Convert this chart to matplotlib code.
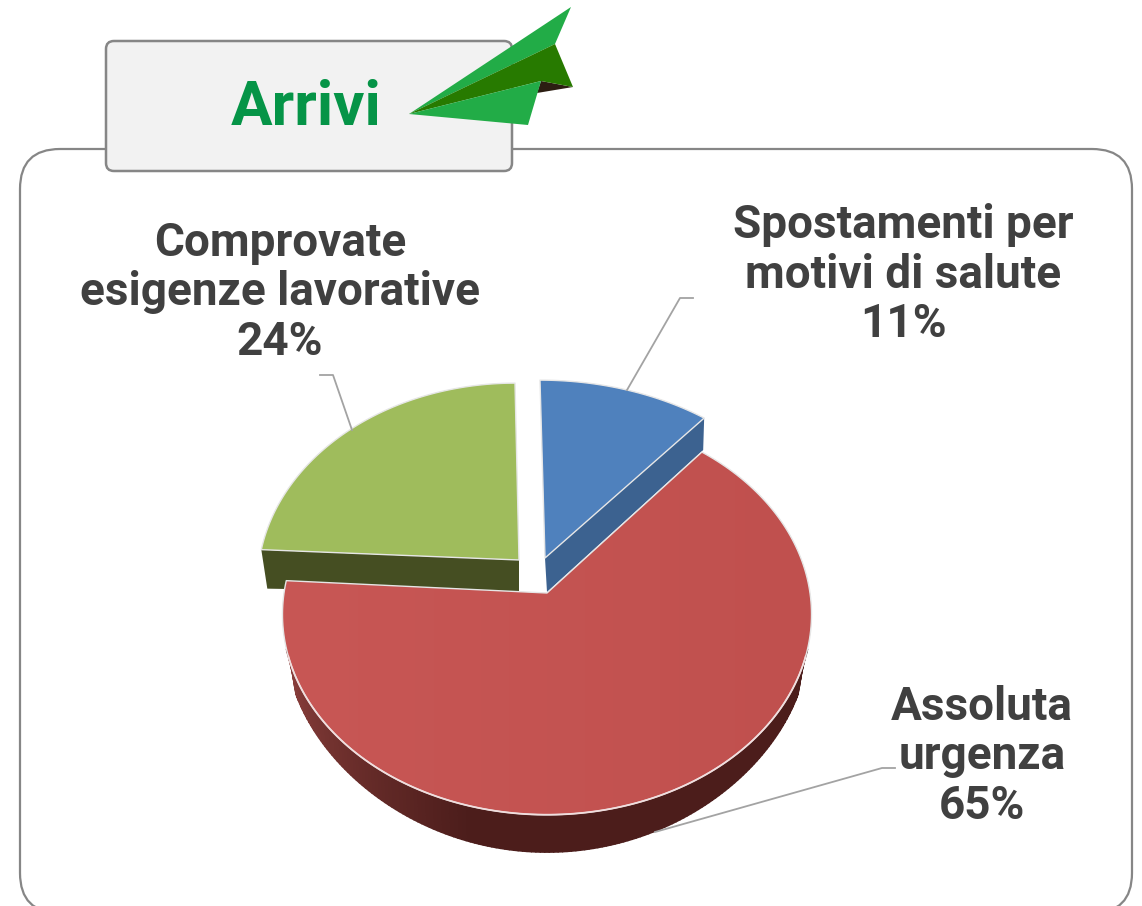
import numpy as np
import matplotlib
matplotlib.use('Agg')
import matplotlib.pyplot as plt
from matplotlib.patches import Polygon, FancyBboxPatch
from matplotlib.collections import PolyCollection
from matplotlib.colors import to_rgb, LinearSegmentedColormap

# Dati del grafico
categorie = ['Spostamenti per\nmotivi di salute', 'Assoluta\nurgenza', 'Comprovate\nesigenze lavorative']
valori = [11, 65, 24]
colori = ['#4f81bd', '#c25250', '#9fbc5c']
colori_lato = ['#3c6290', '#4c1d1b', '#454e22']

# Geometria della torta in pixel
apici = [(545, 558), (547, 593), (519, 560)]
# correzione del bordo per ogni fetta: scala x, spostamento x, spostamento y
correzioni = [(1.06, -5, 1), (1.0, 0, 0), (0.973, -4, 2)]
RX, RY, K = 263, 198, 0.107
SPESSORE = 36

plt.rcParams['font.family'] = ['Roboto', 'DejaVu Sans']
fig = plt.figure(figsize=(11.42, 9.06), dpi=100)
ax = fig.add_axes([0, 0, 1, 1])


def bordo(apice, a, scala=1.0, dy=0.0, corr=(1.0, 0, 0)):
    # punto sul bordo, a = gradi in senso orario dall'alto, con prospettiva
    r = np.radians(a)
    s = scala / (1 + K * np.cos(r))
    return np.column_stack((apice[0] + corr[1] + corr[0] * RX * np.sin(r) * s,
                            apice[1] + corr[2] - RY * np.cos(r) * s + dy))


# Riquadro esterno e linguetta
ax.add_patch(FancyBboxPatch((20, 149), 1112, 764, boxstyle='round,pad=0,rounding_size=40',
                            fc='white', ec='#868686', lw=1.6))
ax.add_patch(FancyBboxPatch((106, 41), 406, 130, boxstyle='round,pad=0,rounding_size=8',
                            fc='#f2f2f2', ec='#868686', lw=1.8))

# Aeroplanino
ax.add_patch(Polygon([(541, 81), (573, 87), (537, 93)], fc='#2c1e12', ec='none'))
ax.add_patch(Polygon([(571, 7), (555, 44), (409, 114)], fc='#22ac47', ec='none'))
ax.add_patch(Polygon([(555, 44), (573, 87), (541, 81), (409, 114)], fc='#277a00', ec='none'))
ax.add_patch(Polygon([(409, 114), (541, 81), (528, 125)], fc='#22ac47', ec='none'))
ax.text(306, 125, 'Arrivi', color='#059447', fontsize=44.5, fontweight='bold', ha='center', va='baseline')

# Angoli delle fette
fine = np.cumsum(valori) / sum(valori) * 360
inizio = np.concatenate(([0], fine[:-1]))

# Ordine: blu, verde, rosso (il rosso copre il lato del verde)
for i in [0, 2, 1]:
    a = np.linspace(inizio[i], fine[i], 200)
    ap = apici[i]
    rim = bordo(ap, a, corr=correzioni[i])
    if i == 1:
        # parete esterna sfumata, piu sottile verso i lati
        aa = np.linspace(106, 254, 170)
        rampa = np.clip(np.minimum(aa - 106, 254 - aa) / 6, 0, 1)
        prof = (24 + 16 * np.abs(np.cos(np.radians(aa))) ** 3) * rampa
        sopra = bordo(ap, aa)
        sotto = bordo(ap, aa, 0.988, prof)
        quad = [[sopra[j], sopra[j + 1], sotto[j + 1], sotto[j]] for j in range(len(aa) - 1)]
        scuro = np.array(to_rgb(colori_lato[1]))
        chiaro = np.array(to_rgb('#8a3f3c'))
        t = np.clip((aa[:-1] - 195) / 57, 0, 1)
        col = [scuro + (chiaro - scuro) * v for v in t]
        ax.add_collection(PolyCollection(quad, facecolors=col, edgecolors=col, linewidths=1.2))
    else:
        # faccia di taglio verso il centro
        lato = inizio[i] if i == 2 else fine[i]
        p = bordo(ap, lato, corr=correzioni[i])[0]
        if i == 2:
            basso = [(p[0] + 6, p[1] + 39), (ap[0], ap[1] + SPESSORE - 3)]
        else:
            basso = [(p[0] - 1, p[1] + 32), (ap[0] + 2, ap[1] + SPESSORE - 2)]
        ax.add_patch(Polygon([ap, p] + basso, fc=colori_lato[i], ec='none'))
    poligono = np.vstack(([ap], rim))
    if i == 1:
        # il rosso schiarisce verso sinistra
        sfum = LinearSegmentedColormap.from_list('rosso', ['#c85755', '#c0504e'])
        im = ax.imshow(np.linspace(0, 1, 256)[None, :], cmap=sfum, aspect='auto', zorder=1,
                       extent=(rim[:, 0].min(), rim[:, 0].max(), rim[:, 1].max(), rim[:, 1].min() - 150))
        forma = Polygon(poligono, fc='none', ec='#e6e6e6', lw=1.0, joinstyle='round')
        ax.add_patch(forma)
        im.set_clip_path(forma)
        # riflesso chiaro sul bordo anteriore
        luce = bordo(ap, np.linspace(108, 252, 120))
        ax.plot(luce[:, 0], luce[:, 1], color='#f0dede', lw=1.3, zorder=1)
    else:
        ax.add_patch(Polygon(poligono, fc=colori[i], ec='#e6e6e6', lw=1.0, joinstyle='round'))

# Linee guida
guida = '#a3a3a3'
ax.plot([693, 680, 627], [298, 298, 390], color=guida, lw=1.3)
ax.plot([320, 333, 352], [375, 375, 430], color=guida, lw=1.3)
ax.plot([895, 882, 655], [768, 768, 832], color=guida, lw=1.3)

# Etichette
pos_etichette = [(903, 337), (982, 819), (280, 355)]
for cat, val, (x, y) in zip(categorie, valori, pos_etichette):
    righe = cat.split('\n') + [f'{val}%']
    for n, riga in enumerate(righe):
        ax.text(x, y - (len(righe) - 1 - n) * 49.5, riga, color='#404040', fontsize=33,
                fontweight='bold', ha='center', va='baseline')

ax.set_xlim(0, 1142)
ax.set_ylim(906, 0)
ax.axis('off')

fig.savefig('out.png', dpi=100)
